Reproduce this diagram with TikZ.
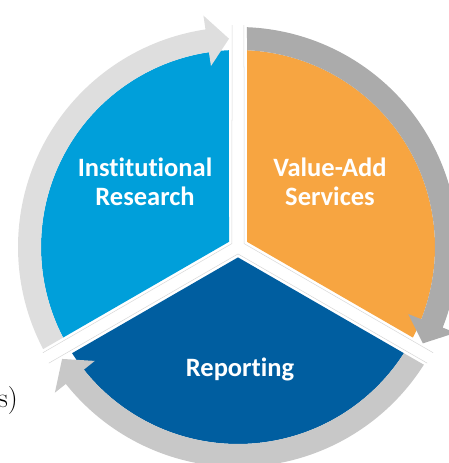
\documentclass[tikz,border=0pt]{standalone}
\usepackage{fontspec}
\newfontfamily\labelfont[Ligatures={CommonOff}]{Carlito}
\definecolor{irblue}{RGB}{0,159,218}
\definecolor{vaorange}{RGB}{247,165,65}
\definecolor{repblue}{RGB}{0,94,160}
\definecolor{ringlight}{RGB}{222,222,222}
\definecolor{ringdark}{RGB}{171,171,171}
\definecolor{ringmid}{RGB}{200,200,200}
\definecolor{gapline}{RGB}{215,215,215}
\tikzset{
  lbl/.style={text=white, font=\labelfont\bfseries\fontsize{26.5}{29}\selectfont, align=center, inner sep=0pt},
  gapedge/.style={draw=gapline, line width=0.5pt},
}
\begin{document}
\begin{tikzpicture}[x=1pt,y=1pt]
\useasboundingbox (-238,-216) rectangle (210,247);
% sectors
\fill[irblue] (150:10.392) -- (92.62:197) arc[start angle=92.62, end angle=207.38, radius=197] -- cycle;
\fill[vaorange] (30:10.392) -- (-27.38:197) arc[start angle=-27.38, end angle=87.38, radius=197] -- cycle;
\fill[repblue] (270:10.392) -- (212.62:197) arc[start angle=212.62, end angle=327.38, radius=197] -- cycle;
% ring arrows
\fill[ringlight] (207.38:197) -- (207.655:220) arc[start angle=207.655, end angle=98.5, radius=220] -- (98.5:234) -- (92.47:208.5) -- (98.5:183) -- (98.5:197) arc[start angle=98.5, end angle=207.38, radius=197] -- cycle;
\fill[ringdark] (87.38:197) -- (87.655:220) arc[start angle=87.655, end angle=-21.5, radius=220] -- (-21.5:234) -- (-27.53:208.5) -- (-21.5:183) -- (-21.5:197) arc[start angle=-21.5, end angle=87.38, radius=197] -- cycle;
\fill[ringmid] (327.38:197) -- (327.655:220) arc[start angle=327.655, end angle=218.5, radius=220] -- (218.5:234) -- (212.47:208.5) -- (218.5:183) -- (218.5:197) arc[start angle=218.5, end angle=327.38, radius=197] -- cycle;
% faint gap edges
\draw[gapedge] (91.55:222) -- (150:6.93) -- (208.45:222);
\draw[gapedge] (211.55:222) -- (270:6.93) -- (328.45:222);
\draw[gapedge] (331.55:222) -- (30:6.93) -- (88.45:222);
% labels
\node[lbl] (ir) at (-93,65) {Institutional\\Research};
\node[lbl] (va) at (92,65) {Value-Add\\Services};
\node[lbl, anchor=base] (rep) at (2,-129) {Reporting};
\node[anchor=base east, inner sep=0pt, font=\fontsize{28}{30}\selectfont] (frag) at (-220,-160) {s)};
\end{tikzpicture}
\end{document}
